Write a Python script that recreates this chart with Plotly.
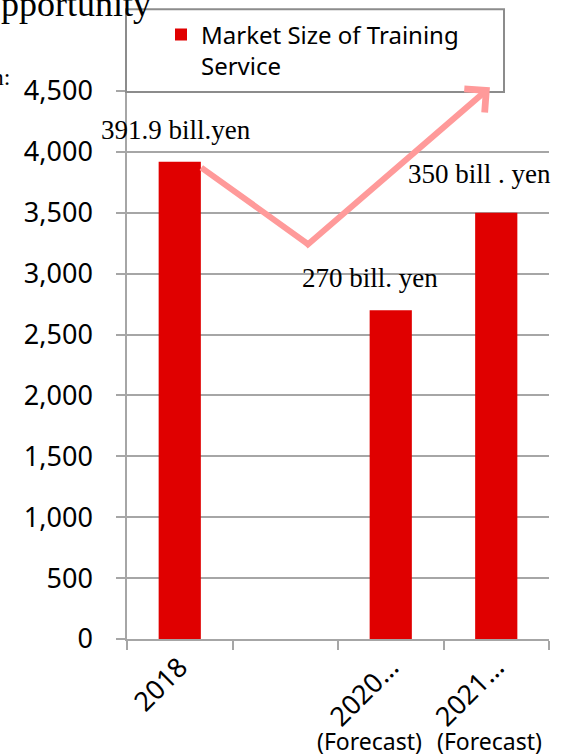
import plotly.graph_objects as go

# ---- data ----
categories = ["2018", "2019", "2020 (Forecast)", "2021 (Forecast)"]
tick_labels = ["2018", "", "2020…", "2021…"]
market_size = [3919, None, 2700, 3500]   # unit: 100 million yen
series_name = "Market Size of Training<br>Service"
bar_labels = ["391.9 bill.yen", None, "270 bill. yen", "350 bill . yen"]
y_ticks = [0, 500, 1000, 1500, 2000, 2500, 3000, 3500, 4000, 4500]

RED = "#E00000"
GRID = "#A6A6A6"
PINK = "#FF9A9A"
SANS = "Noto Sans"
SERIF = "Liberation Serif"

fig = go.Figure()
fig.add_trace(go.Bar(
    x=categories, y=market_size, name=series_name,
    marker=dict(color=RED, line=dict(width=0)),
    width=0.4, showlegend=True,
))

W, H = 568, 755
ML, MR, MT, MB = 127, 19, 89, 116
PW, PH = W - ML - MR, H - MT - MB

def px_x(p):
    return (p - ML) / PW

def px_y(p):
    return (H - MB - p) / PH

annotations = []
# bar value labels (x given as category index)
label_shift = {0: (-4, 32), 2: (-21, 32), 3: (-17, 39)}
for i, (v, t) in enumerate(zip(market_size, bar_labels)):
    if t is None:
        continue
    dx, dy = label_shift[i]
    annotations.append(dict(
        x=i, y=v, xref="x", yref="y", text=t, showarrow=False,
        xshift=dx, yshift=dy, yanchor="middle",
        font=dict(family=SERIF, size=27, color="black"),
    ))

# "(Forecast)" second line of tick labels
for i, dx in [(2, -21), (3, -7)]:
    annotations.append(dict(
        x=i, y=px_y(741), xref="x", yref="paper", text="(Forecast)",
        showarrow=False, xshift=dx, yanchor="middle",
        font=dict(family=SANS, size=23, color="black"),
    ))

# trend arrow (decorative)
annotations.append(dict(
    x=1.22, y=3240, ax=0.19, ay=3880, xref="x", yref="y", axref="x", ayref="y",
    text="", showarrow=True, arrowhead=0, arrowwidth=6, arrowcolor=PINK,
    standoff=0, startstandoff=0,
))
annotations.append(dict(
    x=2.94, y=4530, ax=1.18, ay=3215, xref="x", yref="y", axref="x", ayref="y",
    text="", showarrow=True, arrowhead=4, arrowsize=1, arrowwidth=6,
    arrowcolor=PINK, standoff=0, startstandoff=0,
))

# cropped surrounding document text
annotations.append(dict(
    x=px_x(153), y=px_y(2), xref="paper", yref="paper", text="Business Opportunity",
    showarrow=False, xanchor="right", yanchor="middle",
    font=dict(family=SERIF, size=36, color="black"),
))
annotations.append(dict(
    x=px_x(12), y=px_y(75), xref="paper", yref="paper", text="Unit: 100 million:",
    showarrow=False, xanchor="right", yanchor="middle",
    font=dict(family=SERIF, size=24, color="black"),
))

shapes = [dict(
    type="rect", xref="paper", yref="paper",
    x0=px_x(126), x1=px_x(504), y0=px_y(90), y1=px_y(7),
    line=dict(color="#8C8C8C", width=2), fillcolor="rgba(0,0,0,0)", layer="above",
)]

fig.update_layout(
    width=W, height=H,
    margin=dict(l=ML, r=MR, t=MT, b=MB, pad=0),
    paper_bgcolor="white", plot_bgcolor="white",
    font=dict(family=SANS, color="black"),
    showlegend=True,
    legend=dict(
        x=px_x(161), y=px_y(10), xanchor="left", yanchor="top",
        bgcolor="rgba(0,0,0,0)", borderwidth=0, valign="top",
        font=dict(family=SANS, size=24, color="black"),
    ),
    xaxis=dict(
        type="category", categoryorder="array", categoryarray=categories,
        tickmode="array", tickvals=categories, ticktext=tick_labels,
        tickson="boundaries", ticks="outside", ticklen=9, tickwidth=1.5,
        tickcolor=GRID, showline=True, linecolor=GRID, linewidth=1.5,
        showgrid=False, tickangle=-45,
        tickfont=dict(family=SANS, size=27, color="black"),
        range=[-0.5, 3.5],
    ),
    yaxis=dict(
        range=[0, 4500], tickmode="array", tickvals=y_ticks,
        tickformat=",", showgrid=True, gridcolor=GRID, gridwidth=1.5,
        showline=True, linecolor=GRID, linewidth=1.5,
        ticks="outside", ticklen=9, tickwidth=1.5, tickcolor=GRID,
        zeroline=False, ticklabelstandoff=18,
        tickfont=dict(family=SANS, size=27, color="black"),
    ),
    annotations=annotations,
    shapes=shapes,
)

fig.write_html("out.html", config={"displayModeBar": False},
               post_script="document.body.style.margin='0';")
